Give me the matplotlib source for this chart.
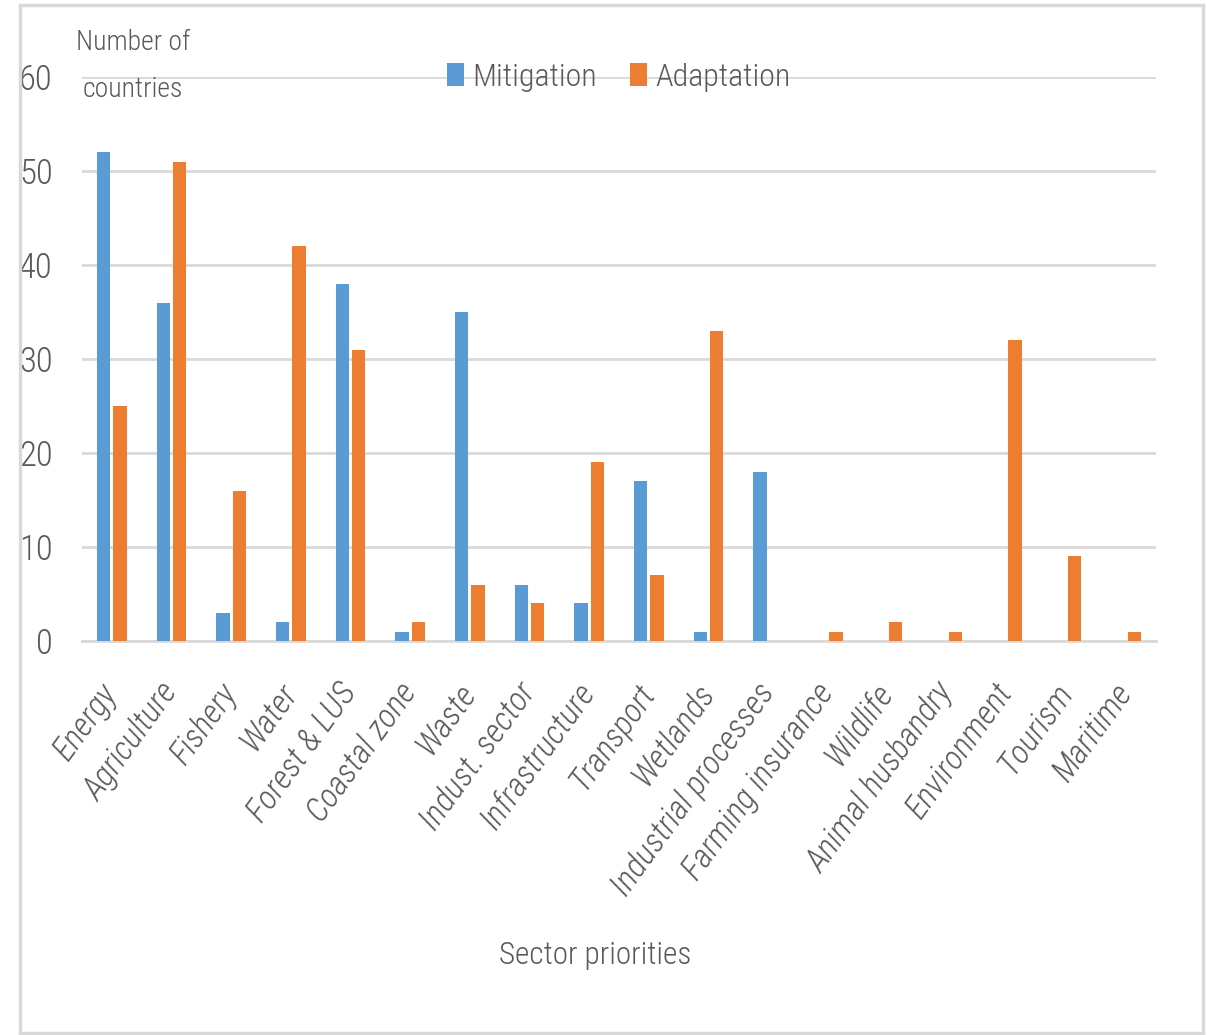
import matplotlib
matplotlib.use("Agg")
import matplotlib.pyplot as plt
from matplotlib import font_manager
from matplotlib.font_manager import FontProperties
from matplotlib.patches import Rectangle
import numpy as np

categories = ["Energy", "Agriculture", "Fishery", "Water", "Forest & LUS", "Coastal zone",
              "Waste", "Indust. sector", "Infrastructure", "Transport", "Wetlands",
              "Industrial processes", "Farming insurance", "Wildlife", "Animal husbandry",
              "Environment", "Tourism", "Maritime"]
mitigation = [52, 36, 3, 2, 38, 1, 35, 6, 4, 17, 1, 18, 0, 0, 0, 0, 0, 0]
adaptation = [25, 51, 16, 42, 31, 2, 6, 4, 19, 7, 33, 0, 1, 2, 1, 32, 9, 1]
yticks = [0, 10, 20, 30, 40, 50, 60]

names = {f.name for f in font_manager.fontManager.ttflist}
family = "DejaVu Sans"
for cand in ["Roboto Condensed", "Liberation Sans Narrow", "Open Sans Condensed", "Liberation Sans"]:
    if cand in names:
        family = cand
        break
plt.rcParams["font.family"] = [family, "DejaVu Sans"]

# italic family for tick labels
ital_family = family
try:
    p = font_manager.findfont(FontProperties(family=family, style="italic"), fallback_to_default=False)
    if "italic" not in p.lower():
        for alt in ["Lato", "Open Sans", "Noto Sans", "DejaVu Sans"]:
            if alt in names:
                ital_family = alt
                break
except Exception:
    ital_family = "DejaVu Sans"

# light weight if available
weight = "normal"
try:
    p = font_manager.findfont(FontProperties(family=family, weight="light"), fallback_to_default=False)
    if "light" in p.lower():
        weight = "light"
except Exception:
    pass

gray = "#595959"
blue = "#5b9bd5"
orange = "#ed7d31"

W, H = 1207, 1035
fig = plt.figure(figsize=(W/100, H/100), dpi=100)
ax = fig.add_axes([82/W, 1-641/H, (1156-82)/W, (641-77)/H])

x = np.arange(len(categories))
w = 0.226
off = 0.138
ax.bar(x - off, mitigation, width=w, color=blue, label="Mitigation", zorder=3)
ax.bar(x + off, adaptation, width=w, color=orange, label="Adaptation", zorder=3)

ax.set_xlim(-0.5, len(categories) - 0.5)
ax.set_ylim(0, 60)
ax.set_yticks(yticks)
ax.yaxis.grid(True, color="#d9d9d9", linewidth=2.0, zorder=0)
ax.set_axisbelow(True)
for s in ["top", "right", "left"]:
    ax.spines[s].set_visible(False)
ax.spines["bottom"].set_color("#d9d9d9")
ax.spines["bottom"].set_linewidth(2.0)
ax.tick_params(axis="both", length=0, colors=gray)
ax.tick_params(axis="y", pad=21)
ax.set_yticklabels([str(v) for v in yticks], fontsize=25, color=gray, fontweight=weight)
ax.set_xticks(x)
ax.set_xticklabels(categories, rotation=54, ha="right", va="center", rotation_mode="anchor",
                   fontsize=24, style="italic", color=gray, fontweight=weight,
                   family=[ital_family, "DejaVu Sans"])
ax.tick_params(axis="x", pad=33)

fig.text(133/W, 1-50/H, "Number of", fontsize=20, color=gray, ha="center", va="baseline",
         fontweight=weight)
fig.text(133/W, 1-97/H, "countries", fontsize=20, color=gray, ha="center", va="baseline",
         fontweight=weight)
fig.text(595/W, 1-955/H, "Sector priorities", fontsize=22.5, color=gray,
         ha="center", va="center", fontweight=weight)

leg = ax.legend(loc="center", bbox_to_anchor=(0.5, 1.0), ncol=2, fontsize=23,
                frameon=False, handlelength=0.52, handleheight=0.7, handletextpad=0.26,
                columnspacing=1.05, borderpad=0.2, labelcolor=gray,
                prop={"size": 23, "weight": weight})

fig.patches.append(Rectangle((20/W, 1-1033/H), (1203-20)/W, (1033-5)/H,
                             transform=fig.transFigure, fill=False, edgecolor="#d9d9d9",
                             linewidth=2.5))

fig.savefig("out.png", dpi=100)
